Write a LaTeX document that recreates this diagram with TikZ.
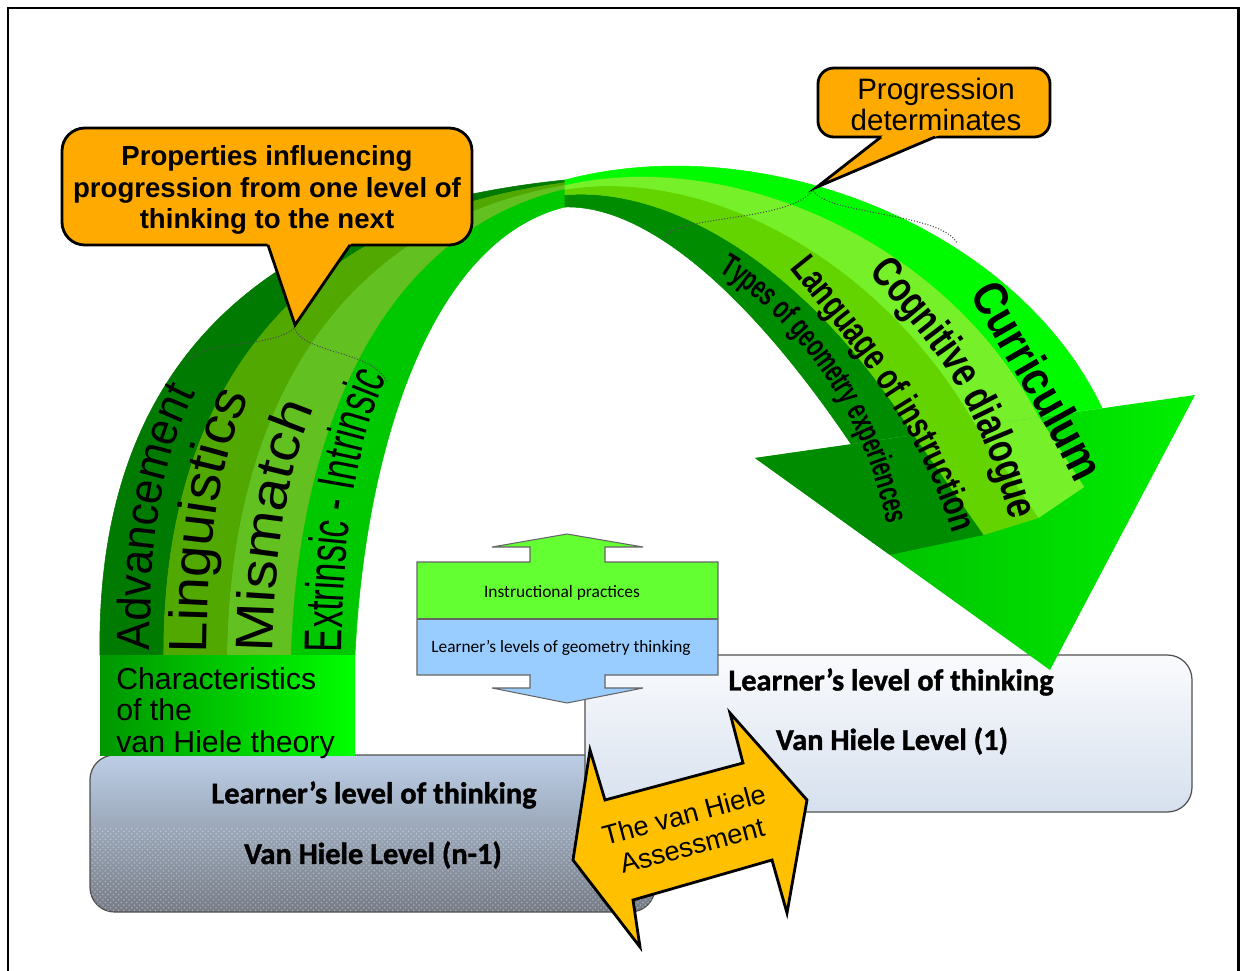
\documentclass[tikz,border=0pt]{standalone}
\usepackage{fontspec}
\setmainfont{Liberation Sans}
\newfontfamily\calfont{Carlito}
\newfontfamily\lvlfont[FakeBold=1.2]{Carlito}
\newfontfamily\advfam[FakeStretch=0.92]{Liberation Sans}
\newfontfamily\lingfam[FakeStretch=1.04]{Liberation Sans}
\newfontfamily\misfam[FakeStretch=1.1]{Liberation Sans}
\newfontfamily\extfam[FakeStretch=0.65]{Liberation Sans}
\newfontfamily\curfam[FakeStretch=0.85]{Liberation Sans}
\newfontfamily\cogfam[FakeStretch=0.77]{Liberation Sans}
\newfontfamily\lanfam[FakeStretch=0.74]{Liberation Sans}
\newfontfamily\typfam[FakeStretch=0.66]{Liberation Sans}
\usepackage{tikz}
\usetikzlibrary{calc,patterns,decorations.text}

\definecolor{callorange}{RGB}{255,170,0}
\definecolor{assessamber}{RGB}{255,192,0}
\definecolor{advgreen}{RGB}{0,122,0}
\definecolor{lingreen}{RGB}{80,168,0}
\definecolor{misgreen}{RGB}{98,192,32}
\definecolor{extgreen}{RGB}{0,200,0}
\definecolor{typgreen}{RGB}{0,140,0}
\definecolor{langreen}{RGB}{100,212,0}
\definecolor{coggreen}{RGB}{118,240,40}
\definecolor{curgreen}{RGB}{0,250,0}
\definecolor{tipgreenL}{RGB}{0,175,0}
\definecolor{tipgreenR}{RGB}{0,240,0}
\definecolor{instgreen}{RGB}{100,255,50}
\definecolor{learnblue}{RGB}{153,204,255}
\definecolor{lvltop}{RGB}{250,251,253}
\definecolor{lvlbot}{RGB}{214,224,238}
\definecolor{lowtop}{RGB}{188,206,230}
\definecolor{lowmid}{RGB}{160,172,190}
\definecolor{lowbot}{RGB}{118,124,134}
\definecolor{boxedge}{RGB}{80,80,80}
\definecolor{chardark}{RGB}{0,150,0}
\definecolor{charlight}{RGB}{0,255,0}

\begin{document}
\begin{tikzpicture}[x=0.02cm, y=-0.02cm,
  callout/.style={fill=callorange, draw=black, line width=1.6pt},
  calltext/.style={align=center, inner sep=0pt},
  levelbox/.style={draw=boxedge, line width=0.7pt, rounded corners=14pt},
  leveltext/.style={font=\lvlfont\bfseries\fontsize{17.3}{19}\selectfont, inner sep=0pt},
  brace/.style={densely dotted, line width=0.6pt, black!70},
  band/.style={fill=#1, draw=#1, line width=0.3pt}]
\useasboundingbox (0,0) rectangle (1242,971);
% frame
\draw[line width=1.7pt] (8,8) rectangle (1238,990);

% level boxes
\shadedraw[levelbox, top color=lowtop, middle color=lowmid, bottom color=lowbot] (90,755) rectangle (655,912);
\begin{scope}
  \clip[rounded corners=14pt] (90,755) rectangle (655,912);
  \fill[pattern=crosshatch dots, pattern color=white, opacity=.35] (90,828) rectangle (655,912);
\end{scope}
\shadedraw[levelbox, top color=lvltop, bottom color=lvlbot] (585,655) rectangle (1192,812);

% ribbon, left leg
\coordinate (L0a) at (100,655);  \coordinate (L0b) at (355,655);
\coordinate (L1a) at (96,410);   \coordinate (L1b) at (365,450);
\coordinate (L2a) at (215,215);  \coordinate (L2b) at (430,240);
\coordinate (L3a) at (565,180);  \coordinate (L3b) at (565,207);
\foreach \col/\sa/\ea/\sb/\eb in {advgreen/0/0/.25/.1, lingreen/.25/.1/.5/.2,
    misgreen/.5/.2/.75/.35, extgreen/.75/.35/1/1}{
  \filldraw[band=\col] ($(L0a)!\sa!(L0b)$) .. controls ($(L1a)!\sa!(L1b)$) and ($(L2a)!\sa!(L2b)$) .. ($(L3a)!\ea!(L3b)$)
    -- ($(L3a)!\eb!(L3b)$) .. controls ($(L2a)!\sb!(L2b)$) and ($(L1a)!\sb!(L1b)$) .. ($(L0a)!\sb!(L0b)$) -- cycle;
}
% ribbon, right part
\coordinate (R0a) at (565,207);  \coordinate (R0b) at (565,180);
\coordinate (R1a) at (640,205);  \coordinate (R1b) at (760,128);
\coordinate (R2a) at (740,280);  \coordinate (R2b) at (1015,225);
\coordinate (R3a) at (851,444);  \coordinate (R3b) at (1102,408);
\foreach \col/\sa/\ea/\sb/\eb in {typgreen/0/0/.45/.25, langreen/.45/.25/.65/.5,
    coggreen/.65/.5/.82/.75, curgreen/.82/.75/1/1}{
  \filldraw[band=\col] ($(R0a)!\sa!(R0b)$) .. controls ($(R1a)!\ea!(R1b)$) and ($(R2a)!\ea!(R2b)$) .. ($(R3a)!\ea!(R3b)$)
    -- ($(R3a)!\eb!(R3b)$) .. controls ($(R2a)!\eb!(R2b)$) and ($(R1a)!\eb!(R1b)$) .. ($(R0a)!\sb!(R0b)$) -- cycle;
}
% arrow head
\coordinate (tip) at (1050,670);
\coordinate (wingL) at (755,458);
\coordinate (wingR) at (1195,395);
\begin{scope}
  \clip (wingL) -- (wingR) -- (tip) -- cycle;
  \shade[left color=tipgreenL, right color=tipgreenR] (wingL) -- (wingR) -- (tip) -- cycle;
  \fill[typgreen] (wingL) -- ($(R3a)!.25!(R3b)$) -- ($(R3a)!.25!(R3b)+(70,100)$) -- ($(wingL)+(120,100)$) -- cycle;
  \fill[langreen] ($(R3a)!.25!(R3b)$) -- ($(R3a)!.5!(R3b)$) -- ($(R3a)!.5!(R3b)+(62,92)$) -- ($(R3a)!.25!(R3b)+(70,100)$) -- cycle;
  \fill[coggreen] ($(R3a)!.5!(R3b)$) -- ($(R3a)!.75!(R3b)$) -- ($(R3a)!.75!(R3b)+(45,70)$) -- ($(R3a)!.5!(R3b)+(62,92)$) -- cycle;
\end{scope}

% dotted braces
\draw[brace] (188,362) .. controls (200,340) and (275,348) .. (294,328)
  .. controls (305,355) and (375,350) .. (387,383);
\draw[brace] (664,238) .. controls (675,215) and (790,222) .. (813,190)
  .. controls (825,215) and (940,212) .. (957,243);

% words on the ribbon
\path[decorate, decoration={text along path, text={|\advfam\fontsize{26.7}{30}\selectfont|Advancement}}]
  (150,650) .. controls (150,520) and (165,450) .. (200,385) -- (215,358);
\path[decorate, decoration={text along path, text={|\lingfam\fontsize{30.7}{32}\selectfont|Linguistics}}]
  (207,653) .. controls (208,530) and (220,460) .. (250,395) -- (263,368);
\path[decorate, decoration={text along path, text={|\misfam\fontsize{30.2}{32}\selectfont|Mismatch}}]
  (273,652) .. controls (275,540) and (290,460) .. (318,400) -- (332,372);
\path[decorate, decoration={text along path, text={|\extfam\fontsize{30.2}{32}\selectfont|Extrinsic - Intrinsic}}]
  (342,652) .. controls (343,520) and (360,430) .. (390,372) -- (405,345);
\path[decorate, decoration={text along path, raise=-9.8pt, text={|\curfam\bfseries\fontsize{27.5}{29}\selectfont|Curriculum}}]
  (985,285) .. controls (1020,350) and (1060,410) .. (1095,485) -- (1110,515);
\path[decorate, decoration={text along path, raise=-8.8pt, text={|\cogfam\bfseries\fontsize{24.5}{26}\selectfont|Cognitive dialogue}}]
  (880,262) .. controls (930,320) and (990,380) .. (1025,515) -- (1032,545);
\path[decorate, decoration={text along path, raise=-7.7pt, text={|\lanfam\bfseries\fontsize{21.5}{23}\selectfont|Language of instruction}}]
  (800,260) .. controls (860,335) and (935,420) .. (968,540) -- (975,570);
\path[decorate, decoration={text along path, raise=-6.6pt, text={|\typfam\bfseries\fontsize{18.5}{20}\selectfont|Types of geometry experiences}}]
  (725,262) .. controls (790,300) and (880,400) .. (900,535) -- (904,565);

% characteristics box
\shade[left color=chardark, right color=charlight] (100,655) rectangle (355,755);
\node[anchor=west, align=left, inner sep=0pt, font=\fontsize{17.2}{18.1}\selectfont] (charac) at (116,713)
  {Characteristics\\of the\\van Hiele theory};

% up-down arrow
\draw[draw=black!60, line width=0.6pt, path picture={
    \fill[instgreen] (path picture bounding box.north west) rectangle (path picture bounding box.east);
    \fill[learnblue] (path picture bounding box.west) rectangle (path picture bounding box.south east);}]
  (567,534) -- (643,547) -- (605,547) -- (605,562) -- (718,562) -- (718,675) -- (605,675) -- (605,688)
  -- (643,688) -- (567,703) -- (492,688) -- (530,688) -- (530,675) -- (417,675) -- (417,562) -- (530,562)
  -- (530,547) -- (492,547) -- cycle;
\draw[black!60, line width=0.6pt] (417,619) -- (718,619);
\node[font=\calfont\fontsize{9.9}{11}\selectfont] (instr) at (562,593) {Instructional practices};
\node[font=\calfont\fontsize{9.85}{11}\selectfont] (learn) at (561,648) {Learner’s levels of geometry thinking};

% texts of the level boxes
\node[leveltext] (lowthink) at (374,795) {Learner’s level of thinking};
\node[leveltext] (lowlevel) at (373,855) {Van Hiele Level (n-1)};
\node[leveltext] (upthink) at (891,682) {Learner’s level of thinking};
\node[leveltext] (uplevel) at (892,741) {Van Hiele Level (1)};

% assessment arrow
\filldraw[fill=assessamber, draw=black, line width=1.6pt, line join=miter]
  (807,800) -- (730,713) -- (743,763) -- (605,800) -- (590,750) -- (573,860)
  -- (640,947) -- (633,900) -- (772,860) -- (787,913) -- cycle;
\node[rotate=15, align=center, inner sep=0pt, font=\fontsize{15.5}{18}\selectfont] (assess) at (688,830)
  {The van Hiele\\Assessment};

% callouts
\filldraw[callout, rounded corners=13pt] (62,128) rectangle (472,245);
\fill[callorange] (265.6,238) -- (295,325) -- (354.8,238) -- cycle;
\draw[callout, fill=none] (268,245) -- (295,325) -- (350,245);
\node[calltext, font=\bfseries\fontsize{15.7}{18.1}\selectfont] (props) at (267,190)
  {Properties influencing\\progression from one level of\\thinking to the next};

\filldraw[callout, rounded corners=9pt] (818,68) rectangle (1050,137);
\fill[callorange] (890,130) -- (817,187) -- (951,130) -- cycle;
\draw[callout, fill=none] (881,137) -- (817,187) -- (935,137);
\node[calltext, font=\fontsize{16.8}{17.6}\selectfont] (determ) at (936,104)
  {Progression\\determinates};
\end{tikzpicture}
\end{document}
